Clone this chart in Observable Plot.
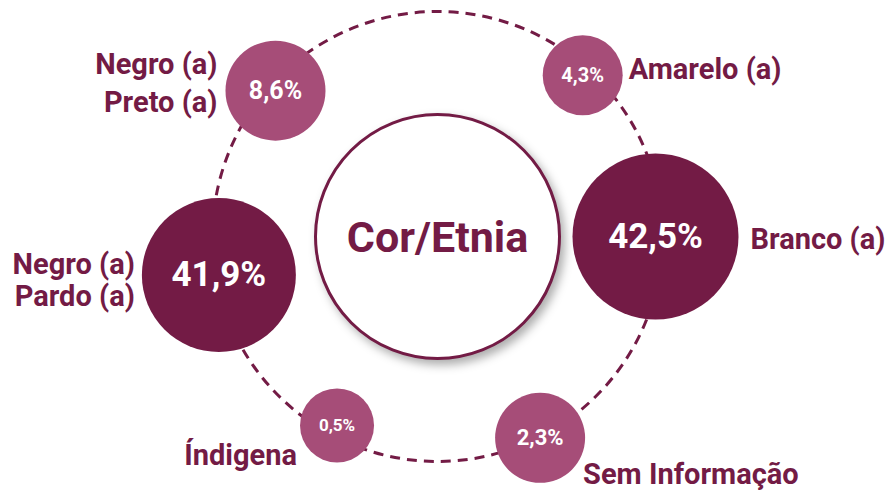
<!DOCTYPE html>
<html>
<head>
<meta charset="utf-8">
<script src="https://cdn.jsdelivr.net/npm/d3@7"></script>
<script src="https://cdn.jsdelivr.net/npm/@observablehq/plot@0.6"></script>
<style>
  html, body { margin: 0; padding: 0; background: #ffffff; }
  #chart { width: 887px; height: 492px; }
  svg { font-family: Roboto, "Noto Sans", sans-serif; }
  g[fill="white"] > circle { filter: drop-shadow(4px 5px 5px rgba(0,0,0,0.32)); }
</style>
</head>
<body>
<div id="chart"></div>
<script>
// ---- data ----
const centerTitle = "Cor/Etnia";
const categories = ["Negro (a)\nPreto (a)", "Amarelo (a)", "Branco (a)", "Sem Informação", "Índigena", "Negro (a)\nPardo (a)"];
const values = [8.6, 4.3, 42.5, 2.3, 0.5, 41.9];

// ---- layout (diagram geometry, not data) ----
const ringRadius = 225;
const centerRadius = 122;
const angles = [-138, -48, 0, 63, 118, 170];          // degrees, clockwise from east
const distances = [218, 217, 218, 226, 214, 222];     // from the ring centre
const bubbleRadii = [50, 40, 83, 45, 37, 77];
const valueFontSizes = [25, 20, 35, 22, 17, 35];
const labelOffsets = [[-58, -10], [46, -7], [95, 1], [43, 35], [-40, 28], [-84, 5]];
const labelAnchors = ["end", "start", "start", "start", "end", "end"];
const labelLineHeights = [1.3, 1.2, 1.2, 1.2, 1.2, 1.08];

const dark = "#731b45";
const light = "#a64d78";

const fmt = v => d3.format(".1f")(v).replace(".", ",") + "%";

const rows = categories.map((c, i) => {
  const a = angles[i] * Math.PI / 180;
  const x = Math.cos(a) * distances[i];
  const y = Math.sin(a) * distances[i];
  return {
    category: c,
    value: values[i],
    text: fmt(values[i]),
    x, y,
    r: bubbleRadii[i],
    fs: valueFontSizes[i],
    color: values[i] > 20 ? dark : light,
    lx: x + labelOffsets[i][0],
    ly: y + labelOffsets[i][1],
    anchor: labelAnchors[i],
    lh: labelLineHeights[i]
  };
});

const labelMarks = rows.map(d => Plot.text([d], {
  x: "lx", y: "ly", text: "category",
  textAnchor: d.anchor, lineAnchor: "middle", lineHeight: d.lh,
  fill: dark, fontSize: 29, fontWeight: 700
}));

const chart = Plot.plot({
  width: 887,
  height: 492,
  margin: 0,
  x: { domain: [-437, 450], range: [0, 887], axis: null },
  y: { domain: [-236, 256], range: [0, 492], axis: null },
  r: { type: "identity" },
  color: { type: "identity" },
  marks: [
    Plot.dot([0], { x: 0, y: 0, r: ringRadius, fill: "none", stroke: dark, strokeWidth: 3, strokeDasharray: "10,7" }),
    Plot.dot([0], { x: 0, y: 0, r: centerRadius, fill: "white", stroke: dark, strokeWidth: 3 }),
    Plot.text([centerTitle], { x: 0, y: 0, text: d => d, fill: dark, fontSize: 43, fontWeight: 700, dy: 2 }),
    Plot.dot(rows, { x: "x", y: "y", r: "r", fill: "color" }),
    Plot.text(rows, { x: "x", y: "y", text: "text", fill: "white", fontSize: "fs", fontWeight: 700 }),
    ...labelMarks
  ]
});

document.getElementById("chart").appendChild(chart);
</script>
</body>
</html>
